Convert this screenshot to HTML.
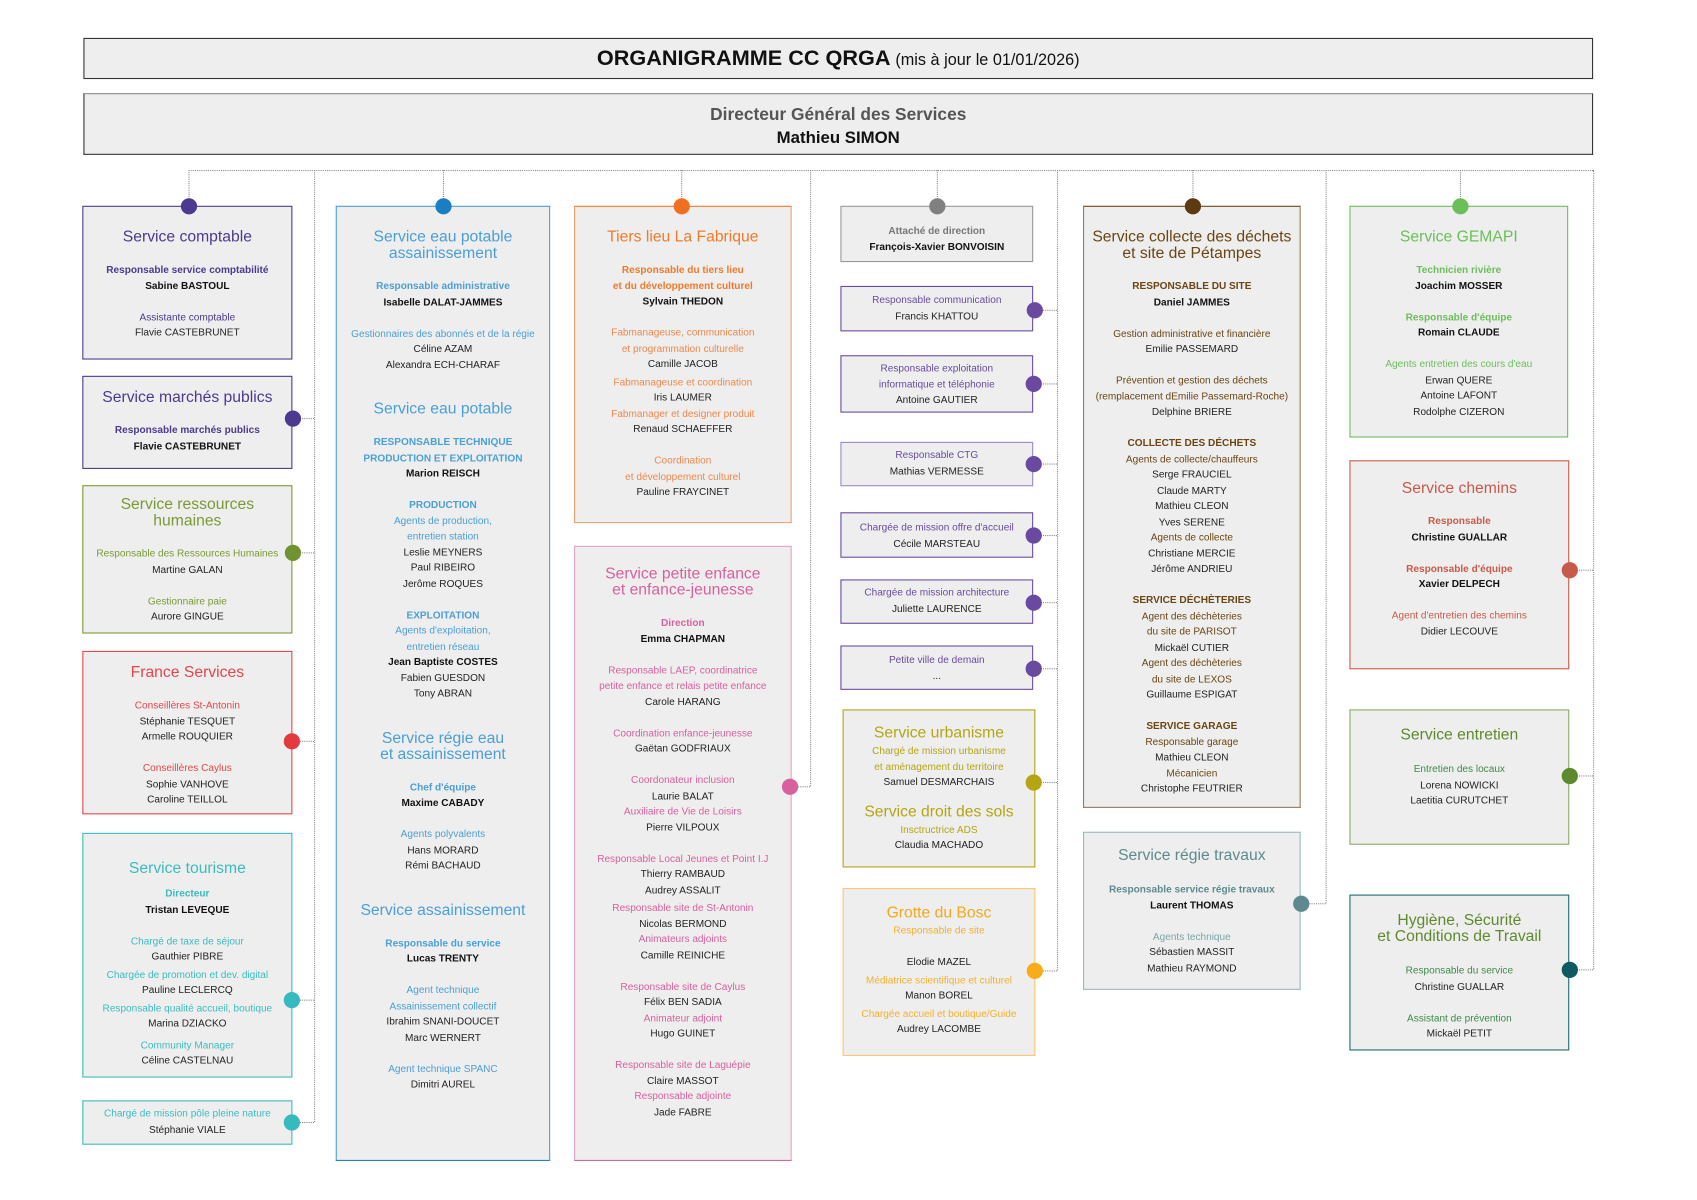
<!DOCTYPE html>
<html><head><meta charset="utf-8">
<style>
html,body{margin:0;padding:0;background:#fff;}
body{width:1697px;height:1200px;overflow:hidden;position:relative;}
#w{position:absolute;left:0;top:0;width:1567px;height:1108px;transform:scale(1.083);transform-origin:0 0;font-family:"Liberation Sans",sans-serif;}
.b{position:absolute;box-sizing:border-box;background:#eeeeee;border:1.5px solid var(--c);text-align:center;color:#222;font-size:9.3px;line-height:14.5px;white-space:nowrap;}
.t{color:var(--c);font-size:14.5px;line-height:15px;margin-bottom:15px;}
.t2{color:var(--c);font-size:14.5px;line-height:15px;margin-bottom:15px;margin-top:27px;}
.r{color:var(--c);font-weight:bold;}
.n{color:#111;font-weight:bold;}
.s{color:var(--c);}
.sp{height:14.5px;}
.dot{position:absolute;width:15px;height:15px;border-radius:50%;margin:-7.5px 0 0 -7.5px;}
.h{position:absolute;border-top:1px dotted #888;height:0;}
.v{position:absolute;border-left:1px dotted #888;width:0;}
</style></head><body><div id="w">

<div style="position:absolute;left:77px;top:35px;width:1394px;height:38px;box-sizing:border-box;border:1.5px solid #333;background:#eeeeee;text-align:center;line-height:36px;color:#111;white-space:nowrap;"><b style="font-size:20px;">ORGANIGRAMME CC QRGA</b> <span style="font-size:15px;">(mis à jour le 01/01/2026)</span></div>
<div style="position:absolute;left:77px;top:86px;width:1394px;height:57px;box-sizing:border-box;border:1.5px solid #333;border-top-color:#888;background:#eeeeee;text-align:center;padding-top:9px;">
<div style="font-size:16px;font-weight:bold;color:#555;line-height:21px;">Directeur Général des Services</div>
<div style="font-size:15.5px;font-weight:bold;color:#111;line-height:21px;">Mathieu SIMON</div></div>

<!-- connectors -->
<div class="h" style="left:174px;top:157px;width:1297px;"></div>
<div class="v" style="left:174px;top:157px;height:33px;"></div>
<div class="v" style="left:409px;top:157px;height:33px;"></div>
<div class="v" style="left:629px;top:157px;height:33px;"></div>
<div class="v" style="left:865px;top:157px;height:33px;"></div>
<div class="v" style="left:1101px;top:157px;height:33px;"></div>
<div class="v" style="left:1348px;top:157px;height:33px;"></div>
<div class="v" style="left:290px;top:157px;height:879px;"></div>
<div class="v" style="left:748px;top:157px;height:569px;"></div>
<div class="v" style="left:976px;top:157px;height:739px;"></div>
<div class="v" style="left:1224px;top:157px;height:677px;"></div>
<div class="v" style="left:1471px;top:157px;height:738px;"></div>
<div class="h" style="left:270px;top:386px;width:20px;"></div>
<div class="h" style="left:270px;top:510px;width:20px;"></div>
<div class="h" style="left:270px;top:684px;width:20px;"></div>
<div class="h" style="left:270px;top:923px;width:20px;"></div>
<div class="h" style="left:270px;top:1036px;width:20px;"></div>
<div class="h" style="left:729px;top:726px;width:19px;"></div>
<div class="h" style="left:955px;top:286px;width:21px;"></div>
<div class="h" style="left:955px;top:354px;width:21px;"></div>
<div class="h" style="left:955px;top:428px;width:21px;"></div>
<div class="h" style="left:955px;top:494px;width:21px;"></div>
<div class="h" style="left:955px;top:556px;width:21px;"></div>
<div class="h" style="left:955px;top:617px;width:21px;"></div>
<div class="h" style="left:955px;top:722px;width:21px;"></div>
<div class="h" style="left:955px;top:896px;width:21px;"></div>
<div class="h" style="left:1201px;top:834px;width:23px;"></div>
<div class="h" style="left:1449px;top:526px;width:22px;"></div>
<div class="h" style="left:1449px;top:716px;width:22px;"></div>
<div class="h" style="left:1449px;top:895px;width:22px;"></div>

<!-- Column 1 -->
<div class="b" style="--c:#4b3a8f;left:76px;top:190px;width:194px;height:142px;padding-top:21px;">
<div class="t">Service comptable</div>
<div class="r">Responsable service comptabilité</div><div class="n">Sabine BASTOUL</div><div class="sp"></div>
<div class="s">Assistante comptable</div><div>Flavie CASTEBRUNET</div></div>

<div class="b" style="--c:#4b3a8f;left:76px;top:347px;width:194px;height:86px;padding-top:12px;">
<div class="t">Service marchés publics</div>
<div class="r">Responsable marchés publics</div><div class="n">Flavie CASTEBRUNET</div></div>

<div class="b" style="--c:#7a9a34;left:76px;top:448px;width:194px;height:137px;padding-top:10px;">
<div class="t">Service ressources<br>humaines</div>
<div class="s">Responsable des Ressources Humaines</div><div>Martine GALAN</div><div class="sp"></div>
<div class="s">Gestionnaire paie</div><div>Aurore GINGUE</div></div>

<div class="b" style="--c:#e2474a;left:76px;top:601px;width:194px;height:151px;padding-top:12px;">
<div class="t">France Services</div>
<div class="s">Conseillères St-Antonin</div><div>Stéphanie TESQUET</div><div>Armelle ROUQUIER</div><div class="sp"></div>
<div class="s">Conseillères Caylus</div><div>Sophie VANHOVE</div><div>Caroline TEILLOL</div></div>

<div class="b" style="--c:#3bbcbf;left:76px;top:769px;width:194px;height:226px;padding-top:25px;">
<div class="t" style="margin-bottom:8px;">Service tourisme</div>
<div class="r">Directeur</div><div class="n">Tristan LEVEQUE</div><div class="sp"></div>
<div class="s">Chargé de taxe de séjour</div><div>Gauthier PIBRE</div>
<div class="s" style="margin-top:2px;">Chargée de promotion et dev. digital</div><div>Pauline LECLERCQ</div>
<div class="s" style="margin-top:2px;">Responsable qualité accueil, boutique</div><div>Marina DZIACKO</div>
<div class="s" style="margin-top:5px;">Community Manager</div><div>Céline CASTELNAU</div></div>

<div class="b" style="--c:#3bbcbf;left:76px;top:1016px;width:194px;height:41px;padding-top:4px;">
<div class="s">Chargé de mission pôle pleine nature</div><div>Stéphanie VIALE</div></div>

<!-- Column 2 -->
<div class="b" style="--c:#4a9fd6;left:310px;top:190px;width:198px;height:882px;padding-top:21px;border-bottom-color:#1a7fc0;">
<div class="t">Service eau potable<br>assainissement</div>
<div class="r">Responsable administrative</div><div class="n">Isabelle DALAT-JAMMES</div><div class="sp"></div>
<div class="s">Gestionnaires des abonnés et de la régie</div><div>Céline AZAM</div><div>Alexandra ECH-CHARAF</div>
<div class="t2">Service eau potable</div>
<div class="r">RESPONSABLE TECHNIQUE<br>PRODUCTION ET EXPLOITATION</div><div class="n">Marion REISCH</div><div class="sp"></div>
<div class="r">PRODUCTION</div><div class="s">Agents de production,<br>entretien station</div><div>Leslie MEYNERS</div><div>Paul RIBEIRO</div><div>Jerôme ROQUES</div><div class="sp"></div>
<div class="r">EXPLOITATION</div><div class="s">Agents d'exploitation,<br>entretien réseau</div><div class="n">Jean Baptiste COSTES</div><div>Fabien GUESDON</div><div>Tony ABRAN</div>
<div class="t2">Service régie eau<br>et assainissement</div>
<div class="r">Chef d'équipe</div><div class="n">Maxime CABADY</div><div class="sp"></div>
<div class="s">Agents polyvalents</div><div>Hans MORARD</div><div>Rémi BACHAUD</div>
<div class="t2">Service assainissement</div>
<div class="r">Responsable du service</div><div class="n">Lucas TRENTY</div><div class="sp"></div>
<div class="s">Agent technique<br>Assainissement collectif</div><div>Ibrahim SNANI-DOUCET</div><div>Marc WERNERT</div><div class="sp"></div>
<div class="s">Agent technique SPANC</div><div>Dimitri AUREL</div></div>

<!-- Column 3 -->
<div class="b" style="--c:#f07a2a;left:530px;top:190px;width:201px;height:293px;padding-top:21px;border-color:#f5a070;border-top-color:#f07a2a;">
<div class="t" style="color:#f07a2a;">Tiers lieu La Fabrique</div>
<div class="r" style="color:#f07a2a;">Responsable du tiers lieu<br>et du développement culturel</div><div class="n">Sylvain THEDON</div><div class="sp"></div>
<div class="s" style="color:#f0884a;">Fabmanageuse, communication<br>et programmation culturelle</div><div>Camille JACOB</div>
<div class="s" style="color:#f0884a;margin-top:2px;">Fabmanageuse et coordination</div><div>Iris LAUMER</div>
<div class="s" style="color:#f0884a;">Fabmanager et designer produit</div><div>Renaud SCHAEFFER</div><div class="sp"></div>
<div class="s" style="color:#f0884a;">Coordination<br>et développement culturel</div><div>Pauline FRAYCINET</div></div>

<div class="b" style="--c:#d9609f;left:530px;top:504px;width:201px;height:568px;padding-top:18px;border-color:#e8a0c8;border-bottom-color:#d9609f;">
<div class="t">Service petite enfance<br>et enfance-jeunesse</div>
<div class="r">Direction</div><div class="n">Emma CHAPMAN</div><div class="sp"></div>
<div class="s">Responsable LAEP, coordinatrice<br>petite enfance et relais petite enfance</div><div>Carole HARANG</div><div class="sp"></div>
<div class="s">Coordination enfance-jeunesse</div><div>Gaëtan GODFRIAUX</div><div class="sp"></div>
<div class="s">Coordonateur inclusion</div><div>Laurie BALAT</div><div class="s">Auxiliaire de Vie de Loisirs</div><div>Pierre VILPOUX</div><div class="sp"></div>
<div class="s">Responsable Local Jeunes et Point I.J</div><div>Thierry RAMBAUD</div><div>Audrey ASSALIT</div>
<div class="s" style="margin-top:2px;">Responsable site de St-Antonin</div><div>Nicolas BERMOND</div><div class="s">Animateurs adjoints</div><div>Camille REINICHE</div><div class="sp"></div>
<div class="s">Responsable site de Caylus</div><div>Félix BEN SADIA</div><div class="s">Animateur adjoint</div><div>Hugo GUINET</div><div class="sp"></div>
<div class="s">Responsable site de Laguépie</div><div>Claire MASSOT</div><div class="s">Responsable adjointe</div><div>Jade FABRE</div></div>

<!-- Column 4 -->
<div class="b" style="--c:#888;left:776px;top:190px;width:178px;height:52px;padding-top:15px;border-color:#999;">
<div class="r" style="color:#777;">Attaché de direction</div><div class="n">François-Xavier BONVOISIN</div></div>
<div class="b" style="--c:#6a4aa0;left:776px;top:264px;width:178px;height:42px;padding-top:5px;"><div class="s">Responsable communication</div><div>Francis KHATTOU</div></div>
<div class="b" style="--c:#6a4aa0;left:776px;top:328px;width:178px;height:53px;padding-top:4px;"><div class="s">Responsable exploitation<br>informatique et téléphonie</div><div>Antoine GAUTIER</div></div>
<div class="b" style="--c:#6a4aa0;left:776px;top:408px;width:178px;height:41px;padding-top:4px;border-color:#9a88c4;"><div class="s">Responsable CTG</div><div>Mathias VERMESSE</div></div>
<div class="b" style="--c:#6a4aa0;left:776px;top:473px;width:178px;height:42px;padding-top:6px;"><div class="s">Chargée de mission offre d'accueil</div><div>Cécile MARSTEAU</div></div>
<div class="b" style="--c:#6a4aa0;left:776px;top:535px;width:178px;height:41px;padding-top:4px;"><div class="s">Chargée de mission architecture</div><div>Juliette LAURENCE</div></div>
<div class="b" style="--c:#6a4aa0;left:776px;top:596px;width:178px;height:41px;padding-top:5px;"><div class="s">Petite ville de demain</div><div>...</div></div>

<div class="b" style="--c:#b5a514;left:778px;top:655px;width:178px;height:146px;padding-top:14px;">
<div class="t" style="margin-bottom:1px;">Service urbanisme</div>
<div class="s">Chargé de mission urbanisme<br>et aménagement du territoire</div><div>Samuel DESMARCHAIS</div>
<div class="t" style="margin:13px 0 1px;">Service droit des sols</div>
<div class="s">Insctructrice ADS</div><div>Claudia MACHADO</div></div>

<div class="b" style="--c:#f5b02a;left:778px;top:820px;width:178px;height:155px;padding-top:15px;border-color:#f8c870;">
<div class="t" style="margin-bottom:1px;color:#f5a81a;">Grotte du Bosc</div>
<div class="s" style="color:#f5b02a;">Responsable de site</div><div class="sp"></div><div>Elodie MAZEL</div>
<div class="s" style="color:#f5b02a;margin-top:2px;">Médiatrice scientifique et culturel</div><div>Manon BOREL</div>
<div class="s" style="color:#f5b02a;margin-top:2px;">Chargée accueil et boutique/Guide</div><div>Audrey LACOMBE</div></div>

<!-- Column 5 -->
<div class="b" style="--c:#6b4513;left:1000px;top:190px;width:201px;height:556px;padding-top:21px;border-color:#9a7a55;border-top-color:#6b4513;">
<div class="t">Service collecte des déchets<br>et site de Pétampes</div>
<div class="r">RESPONSABLE DU SITE</div><div class="n">Daniel JAMMES</div><div class="sp"></div>
<div class="s">Gestion administrative et financière</div><div>Emilie PASSEMARD</div><div class="sp"></div>
<div class="s">Prévention et gestion des déchets<br>(remplacement dEmilie Passemard-Roche)</div><div>Delphine BRIERE</div><div class="sp"></div>
<div class="r">COLLECTE DES DÉCHETS</div><div class="s">Agents de collecte/chauffeurs</div><div>Serge FRAUCIEL</div><div>Claude MARTY</div><div>Mathieu CLEON</div><div>Yves SERENE</div><div class="s">Agents de collecte</div><div>Christiane MERCIE</div><div>Jérôme ANDRIEU</div><div class="sp"></div>
<div class="r">SERVICE DÉCHÈTERIES</div><div class="s">Agent des déchèteries<br>du site de PARISOT</div><div>Mickaël CUTIER</div><div class="s">Agent des déchèteries<br>du site de LEXOS</div><div>Guillaume ESPIGAT</div><div class="sp"></div>
<div class="r">SERVICE GARAGE</div><div class="s">Responsable garage</div><div>Mathieu CLEON</div><div class="s">Mécanicien</div><div>Christophe FEUTRIER</div></div>

<div class="b" style="--c:#5e8a8f;left:1000px;top:768px;width:201px;height:146px;padding-top:14px;border-color:#9ab8bb;">
<div class="t" style="margin-bottom:16px;">Service régie travaux</div>
<div class="r">Responsable service régie travaux</div><div class="n">Laurent THOMAS</div><div class="sp"></div>
<div class="s" style="color:#7aa5a9;">Agents technique</div><div>Sébastien MASSIT</div><div>Mathieu RAYMOND</div></div>

<!-- Column 6 -->
<div class="b" style="--c:#6bbf59;left:1246px;top:190px;width:202px;height:214px;padding-top:21px;">
<div class="t">Service GEMAPI</div>
<div class="r">Technicien rivière</div><div class="n">Joachim MOSSER</div><div class="sp"></div>
<div class="r">Responsable d'équipe</div><div class="n">Romain CLAUDE</div><div class="sp"></div>
<div class="s">Agents entretien des cours d'eau</div><div>Erwan QUERE</div><div>Antoine LAFONT</div><div>Rodolphe CIZERON</div></div>

<div class="b" style="--c:#c85a4a;left:1246px;top:425px;width:203px;height:193px;padding-top:18px;">
<div class="t">Service chemins</div>
<div class="r">Responsable</div><div class="n">Christine GUALLAR</div><div class="sp"></div>
<div class="r">Responsable d'équipe</div><div class="n">Xavier DELPECH</div><div class="sp"></div>
<div class="s">Agent d'entretien des chemins</div><div>Didier LECOUVE</div></div>

<div class="b" style="--c:#5d8a2e;left:1246px;top:655px;width:203px;height:125px;padding-top:16px;border-color:#8aaa66;">
<div class="t" style="margin-bottom:16px;">Service entretien</div>
<div class="s" style="color:#3f8a4a;">Entretien des locaux</div><div>Lorena NOWICKI</div><div>Laetitia CURUTCHET</div></div>

<div class="b" style="--c:#5e8a2e;left:1246px;top:826px;width:203px;height:144px;padding-top:16px;border-color:#1a6a70;">
<div class="t" style="margin-bottom:16px;">Hygiène, Sécurité<br>et Conditions de Travail</div>
<div class="s" style="color:#3f8a4a;">Responsable du service</div><div>Christine GUALLAR</div><div class="sp"></div>
<div class="s" style="color:#3f8a4a;">Assistant de prévention</div><div>Mickaël PETIT</div></div>

<!-- dots -->
<div class="dot" style="left:174px;top:190px;background:#4b3a8f;"></div>
<div class="dot" style="left:270px;top:386px;background:#4b3a8f;"></div>
<div class="dot" style="left:270px;top:510px;background:#6f9332;"></div>
<div class="dot" style="left:269px;top:684px;background:#e23a3f;"></div>
<div class="dot" style="left:269px;top:923px;background:#36babd;"></div>
<div class="dot" style="left:269px;top:1036px;background:#36babd;"></div>
<div class="dot" style="left:409px;top:190px;background:#1a7fc0;"></div>
<div class="dot" style="left:629px;top:190px;background:#f07020;"></div>
<div class="dot" style="left:729px;top:726px;background:#d9609f;"></div>
<div class="dot" style="left:865px;top:190px;background:#808080;"></div>
<div class="dot" style="left:955px;top:286px;background:#6a4aa0;"></div>
<div class="dot" style="left:954px;top:354px;background:#6a4aa0;"></div>
<div class="dot" style="left:954px;top:428px;background:#6a4aa0;"></div>
<div class="dot" style="left:954px;top:494px;background:#6a4aa0;"></div>
<div class="dot" style="left:954px;top:556px;background:#6a4aa0;"></div>
<div class="dot" style="left:954px;top:617px;background:#6a4aa0;"></div>
<div class="dot" style="left:954px;top:722px;background:#b5a514;"></div>
<div class="dot" style="left:955px;top:896px;background:#f8ac1a;"></div>
<div class="dot" style="left:1101px;top:190px;background:#5e3a10;"></div>
<div class="dot" style="left:1201px;top:834px;background:#5e8a8f;"></div>
<div class="dot" style="left:1348px;top:190px;background:#6bbf59;"></div>
<div class="dot" style="left:1449px;top:526px;background:#c85a4a;"></div>
<div class="dot" style="left:1449px;top:716px;background:#5d8a2e;"></div>
<div class="dot" style="left:1449px;top:895px;background:#0e5a60;"></div>

</div></body></html>
